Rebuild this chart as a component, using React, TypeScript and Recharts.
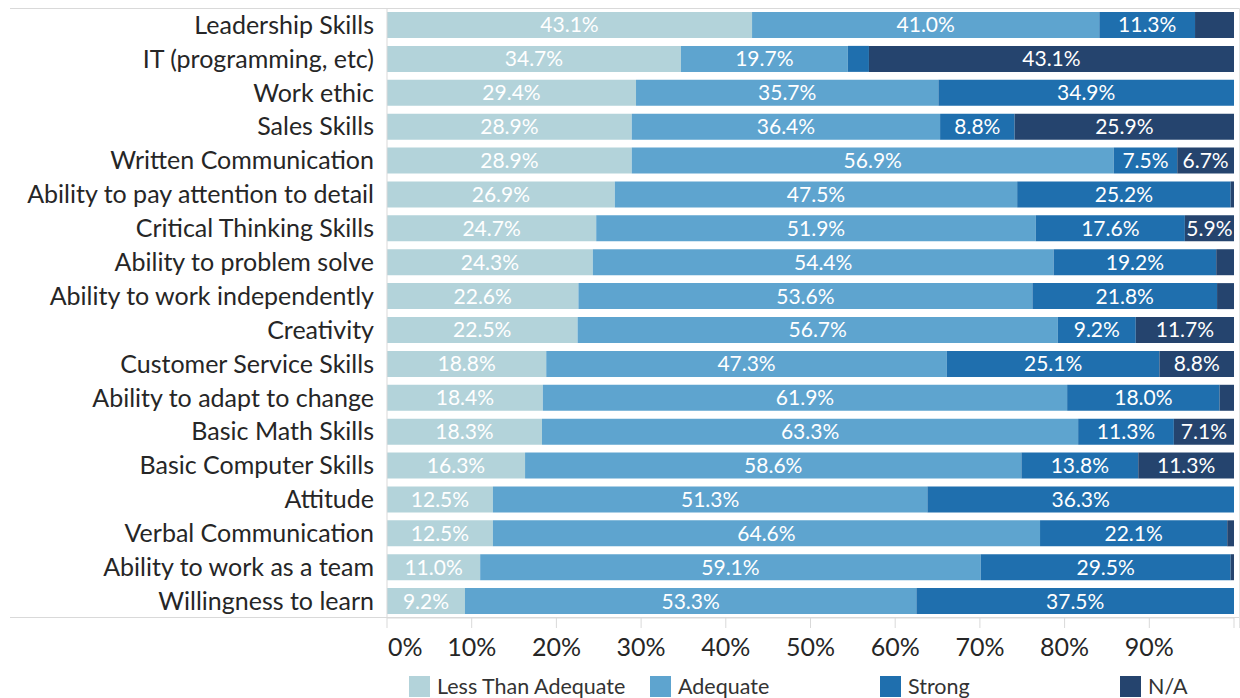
import React from 'react';
import { BarChart, Bar, XAxis, YAxis, LabelList } from 'recharts';

const categories = [
  'Leadership Skills',
  'IT (programming, etc)',
  'Work ethic',
  'Sales Skills',
  'Written Communication',
  'Ability to pay attention to detail',
  'Critical Thinking Skills',
  'Ability to problem solve',
  'Ability to work independently',
  'Creativity',
  'Customer Service Skills',
  'Ability to adapt to change',
  'Basic Math Skills',
  'Basic Computer Skills',
  'Attitude',
  'Verbal Communication',
  'Ability to work as a team',
  'Willingness to learn',
];
const lessThanAdequate = [43.1, 34.7, 29.4, 28.9, 28.9, 26.9, 24.7, 24.3, 22.6, 22.5, 18.8, 18.4, 18.3, 16.3, 12.5, 12.5, 11.0, 9.2];
const adequate = [41.0, 19.7, 35.7, 36.4, 56.9, 47.5, 51.9, 54.4, 53.6, 56.7, 47.3, 61.9, 63.3, 58.6, 51.3, 64.6, 59.1, 53.3];
const strong = [11.3, 2.5, 34.9, 8.8, 7.5, 25.2, 17.6, 19.2, 21.8, 9.2, 25.1, 18.0, 11.3, 13.8, 36.3, 22.1, 29.5, 37.5];
const na = [4.6, 43.1, 0, 25.9, 6.7, 0.4, 5.9, 2.1, 2.0, 11.7, 8.8, 1.7, 7.1, 11.3, 0, 0.8, 0.4, 0];
const xTicks = [0, 10, 20, 30, 40, 50, 60, 70, 80, 90, 100];

const seriesNames = ['Less Than Adequate', 'Adequate', 'Strong', 'N/A'];
const seriesKeys = ['lta', 'adq', 'str', 'na'];
const colors = ['#b3d3da', '#5ea4cf', '#1f6fae', '#25446e'];

const data = categories.map((name, i) => ({
  name,
  lta: lessThanAdequate[i],
  adq: adequate[i],
  str: strong[i],
  na: na[i],
}));

const FONT = 'Lato, "Open Sans", sans-serif';

const fmt = (v: any) => (typeof v === 'number' && v >= 5 ? `${v.toFixed(1)}%` : '');

const XTick = (props: any) => {
  const { x, y, payload } = props;
  const v = payload.value;
  if (v >= 100) return null;
  return (
    <text
      x={v === 0 ? x + 1 : x}
      y={y + 26}
      textAnchor={v === 0 ? 'start' : 'middle'}
      fontSize={25}
      fill="#262626"
      fontFamily={FONT}
    >
      {`${v}%`}
    </text>
  );
};

const legendStarts = [409, 650, 880, 1120];

const LegendBox = () => (
  <div style={{ position: 'absolute', left: 0, top: 673, width: 1240, height: 24, fontFamily: FONT }}>
    {seriesNames.map((n, i) => (
      <div
        key={n}
        style={{ position: 'absolute', left: legendStarts[i], top: 0, display: 'flex', alignItems: 'center' }}
      >
        <div style={{ width: 21, height: 21, background: colors[i], marginRight: 7 }} />
        <span style={{ fontSize: 21.5, color: '#333' }}>{n}</span>
      </div>
    ))}
  </div>
);

export default function App() {
  return (
    <div style={{ position: 'relative', width: 1240, height: 698, background: '#fff' }}>
      <style>{`body{margin:0}`}</style>
      <div style={{ position: 'absolute', left: 10, top: 8, width: 1230, height: 1, background: '#d9d9d9' }} />
      <div style={{ position: 'absolute', left: 10, top: 617, width: 1230, height: 1, background: '#d9d9d9' }} />
      <div style={{ position: 'absolute', left: 1239, top: 8, width: 1, height: 620, background: '#e3e3e3' }} />
      <BarChart
        width={1240}
        height={698}
        data={data}
        layout="vertical"
        margin={{ top: 8, right: 6, bottom: 50, left: 0 }}
        barSize={26}
      >
        <XAxis
          type="number"
          domain={[0, 100]}
          ticks={xTicks}
          interval={0}
          tick={<XTick />}
          tickLine={{ stroke: '#d9d9d9' }}
          tickSize={10}
          height={30}
          axisLine={{ stroke: '#d9d9d9' }}
          allowDataOverflow
        />
        <YAxis
          type="category"
          dataKey="name"
          width={387}
          interval={0}
          tickLine={false}
          axisLine={{ stroke: '#d9d9d9' }}
          tickMargin={7}
          tick={{ fontSize: 25, fill: '#262626', fontFamily: FONT }}
        />
        {seriesKeys.map((k, i) => (
          <Bar key={k} dataKey={k} name={seriesNames[i]} stackId="a" fill={colors[i]} isAnimationActive={false}>
            <LabelList
              dataKey={k}
              position="center"
              formatter={fmt}
              fill="#ffffff"
              fontSize={21}
              fontFamily={FONT}
            />
          </Bar>
        ))}
      </BarChart>
      <LegendBox />
    </div>
  );
}
